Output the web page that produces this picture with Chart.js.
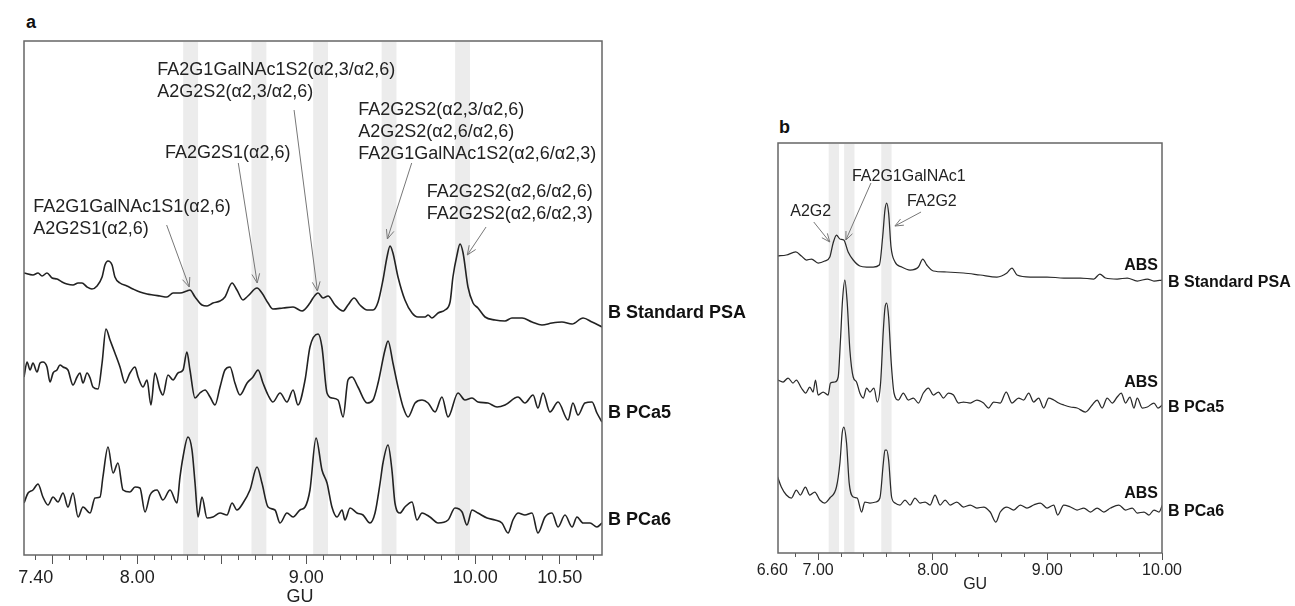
<!DOCTYPE html>
<html><head><meta charset="utf-8">
<script src="https://cdn.jsdelivr.net/npm/chart.js@4/dist/chart.umd.min.js"></script>
<style>
html,body{margin:0;padding:0;background:#fff;}
body{width:1295px;height:606px;position:relative;overflow:hidden;font-family:"Liberation Sans",Arial,sans-serif;}
#wa{position:absolute;left:0;top:0;width:760px;height:606px;}
#wb{position:absolute;left:738px;top:0;width:557px;height:606px;}
.plab{position:absolute;font-weight:bold;font-size:18px;color:#111;line-height:20px;}
</style></head><body>
<div class="plab" style="left:26px;top:12px">a</div>
<div class="plab" style="left:779px;top:117px">b</div>
<div id="wa"><canvas id="ca"></canvas></div>
<div id="wb"><canvas id="cb"></canvas></div>
<script>
// ---------------- Panel a data (x = GU, y = relative signal) ----------------
const aXRange = [7.33, 10.75];
const aTickLabels = [7.4, 8.0, 9.0, 10.0, 10.5];
const aMajorTicks = [7.5, 8.0, 8.5, 9.0, 9.5, 10.0, 10.5];
const aBands = [8.316, 8.72, 9.085, 9.49, 9.925];
const aSeriesNames = ['B Standard PSA', 'B PCa5', 'B PCa6'];
const aSeriesLabelY = [242, 142, 35];

const aStdPSA = [[7.330,282],[7.383,280],[7.413,282],[7.437,279],[7.466,282],[7.496,277],[7.525,276],[7.555,273],[7.584,271],[7.620,270],[7.650,272],[7.673,272],[7.703,268],[7.732,266],[7.762,269],[7.792,278],[7.809,290],[7.827,294],[7.851,290],[7.868,278],[7.898,272],[7.939,269],[7.975,266],[8.016,263],[8.058,261],[8.093,260],[8.135,259],[8.176,258],[8.212,262],[8.253,262],[8.294,264],[8.312,265],[8.342,258],[8.383,250],[8.413,249],[8.448,252],[8.490,254],[8.519,258],[8.561,272],[8.590,265],[8.626,255],[8.655,259],[8.709,267],[8.738,262],[8.774,252],[8.803,246],[8.863,247],[8.922,248],[8.975,244],[9.022,252],[9.040,257],[9.070,262],[9.099,257],[9.129,259],[9.170,250],[9.218,244],[9.247,250],[9.283,257],[9.318,250],[9.360,245],[9.395,245],[9.425,253],[9.454,275],[9.478,298],[9.496,309],[9.513,302],[9.543,278],[9.584,255],[9.626,242],[9.661,238],[9.703,238],[9.721,240],[9.744,237],[9.780,242],[9.821,245],[9.851,253],[9.868,278],[9.892,300],[9.910,311],[9.928,302],[9.957,268],[9.987,252],[10.016,247],[10.058,238],[10.117,235],[10.176,234],[10.217,237],[10.277,237],[10.336,233],[10.395,230],[10.454,232],[10.513,233],[10.573,231],[10.638,237],[10.691,233],[10.750,228]];

const aPCa5 = [[7.330,178],[7.348,193],[7.366,185],[7.383,192],[7.407,183],[7.425,192],[7.442,193],[7.466,188],[7.484,173],[7.502,182],[7.525,185],[7.543,190],[7.561,188],[7.590,185],[7.620,170],[7.644,178],[7.661,182],[7.679,172],[7.703,182],[7.721,177],[7.738,168],[7.768,166],[7.792,192],[7.815,226],[7.839,215],[7.868,202],[7.898,188],[7.928,172],[7.957,182],[7.987,188],[8.005,178],[8.034,168],[8.058,175],[8.081,150],[8.105,182],[8.135,165],[8.152,160],[8.182,180],[8.212,175],[8.241,182],[8.271,185],[8.294,203],[8.312,185],[8.342,157],[8.371,162],[8.401,165],[8.431,158],[8.460,150],[8.490,168],[8.519,185],[8.549,188],[8.578,172],[8.608,160],[8.650,172],[8.685,178],[8.715,185],[8.744,172],[8.774,160],[8.803,153],[8.845,162],[8.886,153],[8.922,165],[8.951,150],[8.993,175],[9.022,208],[9.070,221],[9.093,208],[9.123,162],[9.152,157],[9.188,155],[9.218,138],[9.247,175],[9.271,178],[9.306,168],[9.360,152],[9.395,155],[9.425,172],[9.466,205],[9.484,214],[9.513,192],[9.543,168],[9.573,148],[9.602,138],[9.644,152],[9.685,155],[9.721,152],[9.762,143],[9.803,158],[9.839,138],[9.898,162],[9.939,155],[9.981,157],[10.016,153],[10.075,152],[10.129,148],[10.176,150],[10.253,158],[10.294,152],[10.342,160],[10.371,147],[10.401,162],[10.442,143],[10.490,153],[10.549,135],[10.578,152],[10.608,140],[10.649,152],[10.691,153],[10.720,142],[10.750,133]];

const aPCa6 = [[7.330,52],[7.354,62],[7.383,65],[7.413,71],[7.442,58],[7.472,50],[7.502,58],[7.531,53],[7.561,62],[7.590,48],[7.620,62],[7.650,38],[7.679,48],[7.721,42],[7.750,57],[7.780,58],[7.797,78],[7.827,108],[7.857,82],[7.886,92],[7.916,65],[7.957,63],[7.987,68],[8.016,67],[8.046,43],[8.076,60],[8.117,65],[8.152,55],[8.194,65],[8.235,52],[8.253,78],[8.271,98],[8.300,118],[8.324,105],[8.342,72],[8.360,38],[8.383,58],[8.413,37],[8.448,38],[8.490,42],[8.531,40],[8.561,52],[8.590,45],[8.626,52],[8.667,65],[8.709,88],[8.738,72],[8.774,48],[8.815,45],[8.845,32],[8.886,42],[8.922,38],[8.963,45],[8.993,48],[9.022,65],[9.058,117],[9.093,85],[9.123,72],[9.152,48],[9.182,38],[9.212,45],[9.229,35],[9.259,47],[9.300,42],[9.336,40],[9.377,32],[9.407,42],[9.437,72],[9.454,92],[9.484,110],[9.507,85],[9.525,52],[9.555,42],[9.584,48],[9.626,53],[9.655,35],[9.685,42],[9.732,38],[9.780,32],[9.839,35],[9.880,47],[9.922,43],[9.951,30],[9.981,45],[10.016,42],[10.070,37],[10.117,35],[10.158,32],[10.194,22],[10.223,35],[10.253,42],[10.294,40],[10.336,42],[10.371,22],[10.413,38],[10.454,42],[10.490,28],[10.531,40],[10.573,28],[10.602,38],[10.638,32],[10.679,32],[10.720,28],[10.750,32]];

const aNotes = [
  {x: 7.385, y: 348, lines: ['FA2G1GalNAc1S1(\u03b12,6)', 'A2G2S1(\u03b12,6)']},
  {x: 8.164, y: 402, lines: ['FA2G2S1(\u03b12,6)']},
  {x: 8.119, y: 485, lines: ['FA2G1GalNAc1S2(\u03b12,3/\u03b12,6)', 'A2G2S2(\u03b12,3/\u03b12,6)']},
  {x: 9.308, y: 445, lines: ['FA2G2S2(\u03b12,3/\u03b12,6)', 'A2G2S2(\u03b12,6/\u03b12,6)', 'FA2G1GalNAc1S2(\u03b12,6/\u03b12,3)']},
  {x: 9.713, y: 363, lines: ['FA2G2S2(\u03b12,6/\u03b12,6)', 'FA2G2S2(\u03b12,6/\u03b12,3)']}
];
const aArrows = [
  [8.174, 330, 8.308, 268],
  [8.598, 392, 8.710, 272],
  [8.928, 445, 9.066, 264],
  [9.624, 392, 9.480, 316],
  [10.064, 328, 9.953, 300]
];

// ---------------- Panel b data ----------------
const bXRange = [6.65, 10.0];
const bTickLabels = [6.6, 7.0, 8.0, 9.0, 10.0];
const bMajorTicks = [7.0, 8.0, 9.0, 10.0];
const bBands = [7.137, 7.272, 7.596];
const bSeriesNames = ['B Standard PSA', 'B PCa5', 'B PCa6'];
const bSeriesLabelY = [270, 145, 41];
const bAbsLabelY = [287, 170, 59];

const bStdPSA = [[6.647,297],[6.723,298],[6.805,301],[6.854,297],[6.898,293],[6.942,294],[7.000,290],[7.058,292],[7.102,296],[7.131,310],[7.160,318],[7.190,314],[7.224,313],[7.262,301],[7.306,293],[7.364,287],[7.423,286],[7.481,286],[7.534,288],[7.563,316],[7.583,343],[7.598,350],[7.615,340],[7.636,306],[7.671,291],[7.729,286],[7.802,283],[7.875,286],[7.913,294],[7.948,288],[8.006,282],[8.122,281],[8.268,280],[8.414,278],[8.560,276],[8.647,280],[8.691,285],[8.735,278],[8.851,276],[8.997,276],[9.143,275],[9.289,275],[9.405,274],[9.458,279],[9.507,275],[9.609,274],[9.697,275],[9.784,272],[9.872,274],[9.930,272],[10.003,273]];

const bPCa5 = [[6.647,173],[6.694,171],[6.738,175],[6.781,170],[6.810,173],[6.854,165],[6.892,160],[6.927,166],[6.956,161],[6.977,173],[7.000,158],[7.044,161],[7.087,158],[7.108,170],[7.146,171],[7.175,176],[7.195,213],[7.213,253],[7.233,273],[7.254,250],[7.277,203],[7.306,176],[7.335,171],[7.364,160],[7.394,155],[7.423,165],[7.452,161],[7.487,165],[7.516,151],[7.545,170],[7.569,223],[7.583,245],[7.598,250],[7.615,236],[7.638,190],[7.662,160],[7.700,153],[7.743,160],[7.787,153],[7.831,155],[7.875,150],[7.918,160],[7.962,165],[8.006,158],[8.050,161],[8.093,155],[8.137,160],[8.181,158],[8.224,150],[8.268,151],[8.327,150],[8.385,153],[8.443,150],[8.487,145],[8.531,151],[8.589,150],[8.641,161],[8.691,150],[8.749,155],[8.793,153],[8.837,160],[8.880,151],[8.924,155],[8.968,145],[9.012,155],[9.055,153],[9.099,150],[9.143,148],[9.201,146],[9.259,145],[9.332,141],[9.391,148],[9.434,153],[9.478,145],[9.522,155],[9.566,150],[9.609,156],[9.644,160],[9.682,150],[9.720,156],[9.755,145],[9.784,155],[9.828,145],[9.872,146],[9.930,150],[9.965,145],[10.003,148]];

const bPCa6 = [[6.647,76],[6.679,66],[6.723,58],[6.767,55],[6.810,63],[6.845,58],[6.889,66],[6.927,58],[6.971,61],[7.015,53],[7.058,50],[7.102,55],[7.160,66],[7.190,90],[7.210,120],[7.224,126],[7.248,110],[7.271,70],[7.306,56],[7.341,55],[7.379,41],[7.408,51],[7.452,50],[7.504,51],[7.539,55],[7.569,90],[7.583,103],[7.598,103],[7.615,93],[7.641,56],[7.671,50],[7.714,48],[7.758,53],[7.802,48],[7.845,55],[7.889,50],[7.933,51],[7.977,48],[8.020,58],[8.064,48],[8.108,53],[8.152,48],[8.210,51],[8.268,46],[8.327,48],[8.385,45],[8.443,46],[8.501,41],[8.551,31],[8.589,41],[8.647,46],[8.706,43],[8.764,48],[8.822,45],[8.880,48],[8.939,50],[8.997,45],[9.055,48],[9.090,38],[9.143,48],[9.201,46],[9.259,43],[9.318,45],[9.376,41],[9.434,45],[9.493,41],[9.551,45],[9.624,48],[9.682,43],[9.741,45],[9.784,40],[9.843,41],[9.886,38],[9.930,43],[9.974,41],[10.003,48]];

const bNotes = [
  {x: 6.757, y: 341, lines: ['A2G2']},
  {x: 7.295, y: 376, lines: ['FA2G1GalNAc1']},
  {x: 7.775, y: 351, lines: ['FA2G2']}
];
const bArrows = [
  [6.962, 331, 7.102, 311],
  [7.461, 370, 7.242, 313],
  [7.898, 341, 7.670, 327]
];

// ---------------- drawing helpers ----------------
const FONT = '"Liberation Sans", Arial, Helvetica, sans-serif';

const decor = {
  id: 'decor',
  beforeDatasetsDraw(chart, args, o) {
    const {ctx, chartArea: a, scales: {x}} = chart;
    ctx.save();
    ctx.fillStyle = '#ececec';
    for (const c of o.bands) {
      const x1 = x.getPixelForValue(c - o.bandHalf), x2 = x.getPixelForValue(c + o.bandHalf);
      ctx.fillRect(x1, a.top + 1, x2 - x1, a.bottom - a.top - 1);
    }
    ctx.restore();
  },
  afterDraw(chart, args, o) {
    const {ctx, chartArea: a, scales: {x, y}} = chart;
    ctx.save();
    ctx.strokeStyle = '#666'; ctx.lineWidth = 1.5;
    ctx.strokeRect(a.left, a.top, a.right - a.left, a.bottom - a.top);
    ctx.strokeStyle = '#777'; ctx.lineWidth = 1;
    for (const ar of o.arrows) {
      const x1 = x.getPixelForValue(ar[0]), y1 = y.getPixelForValue(ar[1]);
      const x2 = x.getPixelForValue(ar[2]), y2 = y.getPixelForValue(ar[3]);
      const ang = Math.atan2(y2 - y1, x2 - x1), L = o.headLen, w = 0.4;
      ctx.beginPath();
      ctx.moveTo(x1, y1); ctx.lineTo(x2, y2);
      ctx.moveTo(x2 - L * Math.cos(ang - w), y2 - L * Math.sin(ang - w));
      ctx.lineTo(x2, y2);
      ctx.lineTo(x2 - L * Math.cos(ang + w), y2 - L * Math.sin(ang + w));
      ctx.stroke();
    }
    ctx.fillStyle = '#222'; ctx.font = o.noteFont; ctx.textBaseline = 'middle'; ctx.textAlign = 'left';
    for (const n of o.notes) {
      const px = x.getPixelForValue(n.x), py = y.getPixelForValue(n.y);
      n.lines.forEach((t, i) => ctx.fillText(t, px, py + i * o.lineGap));
    }
    ctx.fillStyle = '#111'; ctx.font = o.seriesFont;
    o.names.forEach((nm, i) => ctx.fillText(nm, a.right + 6, y.getPixelForValue(o.nameY[i])));
    if (o.absY) {
      ctx.textAlign = 'right';
      o.absY.forEach(v => ctx.fillText('ABS', a.right - 4, y.getPixelForValue(v)));
    }
    ctx.fillStyle = '#222'; ctx.font = o.guFont; ctx.textAlign = 'center';
    ctx.fillText('GU', x.getPixelForValue(o.guAt), o.guY);
    ctx.restore();
  }
};

function near(list, v) { return list.some(t => Math.abs(t - v) < 1e-6); }

function build(canvasId, p) {
  const datasets = p.series.map(s => ({
    data: s.map(q => ({x: q[0], y: q[1]})),
    borderColor: p.lineColor, borderWidth: p.lineWidth,
    pointRadius: 0, fill: false, cubicInterpolationMode: 'monotone'
  }));
  const labelTicks = Array.from(new Set(p.tickLabels.concat(p.majorTicks))).sort((a, b) => a - b);
  const minor = [];
  for (let v = p.minorStart; v <= p.xRange[1] + 1e-9; v += p.minorStep) minor.push(Math.round(v * 1000) / 1000);
  new Chart(document.getElementById(canvasId), {
    type: 'line',
    data: {datasets},
    plugins: [decor],
    options: {
      responsive: true, maintainAspectRatio: false, animation: false,
      layout: {padding: p.padding},
      plugins: {legend: {display: false}, tooltip: {enabled: false},
        decor: {bands: p.bands, bandHalf: p.bandHalf, arrows: p.arrows, notes: p.notes, headLen: p.headLen,
          noteFont: p.noteFont, lineGap: p.lineGap, seriesFont: p.seriesFont, names: p.names, nameY: p.nameY,
          absY: p.absY, guAt: p.guAt, guY: p.guY, guFont: p.tickFontSize + 'px ' + FONT}},
      scales: {
        x: {type: 'linear', position: 'bottom', weight: 1, min: p.xRange[0], max: p.xRange[1],
          afterBuildTicks: s => { s.ticks = labelTicks.map(v => ({value: v})); },
          afterFit: s => { s.height = p.axisHeight; },
          grid: {drawOnChartArea: false, tickLength: p.majorLen, tickWidth: 1,
            tickColor: c => (c.tick && near(p.majorTicks, c.tick.value)) ? '#555' : 'rgba(0,0,0,0)'},
          border: {display: false},
          ticks: {autoSkip: false, maxRotation: 0, padding: p.tickPad, color: '#222', font: {size: p.tickFontSize, family: FONT},
            callback: v => near(p.tickLabels, v) ? v.toFixed(2) : ''},
          title: {display: false}
        },
        xm: {type: 'linear', position: 'bottom', weight: 0, min: p.xRange[0], max: p.xRange[1],
          afterBuildTicks: s => { s.ticks = minor.map(v => ({value: v})); },
          afterFit: s => { s.height = 0; },
          grid: {drawOnChartArea: false, tickLength: p.minorLen, tickWidth: 1, tickColor: '#555'},
          border: {display: false},
          ticks: {display: false}
        },
        y: {display: false, min: 0, max: p.yMax}
      }
    }
  });
}

build('ca', {
  series: [aStdPSA, aPCa5, aPCa6], lineColor: '#222', lineWidth: 1.6,
  xRange: aXRange, tickLabels: aTickLabels, majorTicks: aMajorTicks, minorStart: 7.4, minorStep: 0.1,
  padding: {left: 24, right: 158, top: 41, bottom: 0}, axisHeight: 51, majorLen: 9, minorLen: 5, tickPad: 3,
  tickFontSize: 18,
  yMax: 514, bands: aBands, bandHalf: 0.044, arrows: aArrows, notes: aNotes, headLen: 10,
  noteFont: '18px ' + FONT, lineGap: 22, seriesFont: 'bold 18px ' + FONT, names: aSeriesNames, nameY: aSeriesLabelY,
  absY: null, guAt: 8.963, guY: 597
});

build('cb', {
  series: [bStdPSA, bPCa5, bPCa6], lineColor: '#2a2a2a', lineWidth: 1.25,
  xRange: bXRange, tickLabels: bTickLabels, majorTicks: bMajorTicks, minorStart: 6.8, minorStep: 0.2,
  padding: {left: 40, right: 133, top: 143, bottom: 11}, axisHeight: 42, majorLen: 7, minorLen: 4, tickPad: 1,
  tickFontSize: 16,
  yMax: 410, bands: bBands, bandHalf: 0.045, arrows: bArrows, notes: bNotes, headLen: 9,
  noteFont: '16px ' + FONT, lineGap: 20, seriesFont: 'bold 16px ' + FONT, names: bSeriesNames, nameY: bSeriesLabelY,
  absY: bAbsLabelY, guAt: 8.37, guY: 585
});
</script>
</body></html>
